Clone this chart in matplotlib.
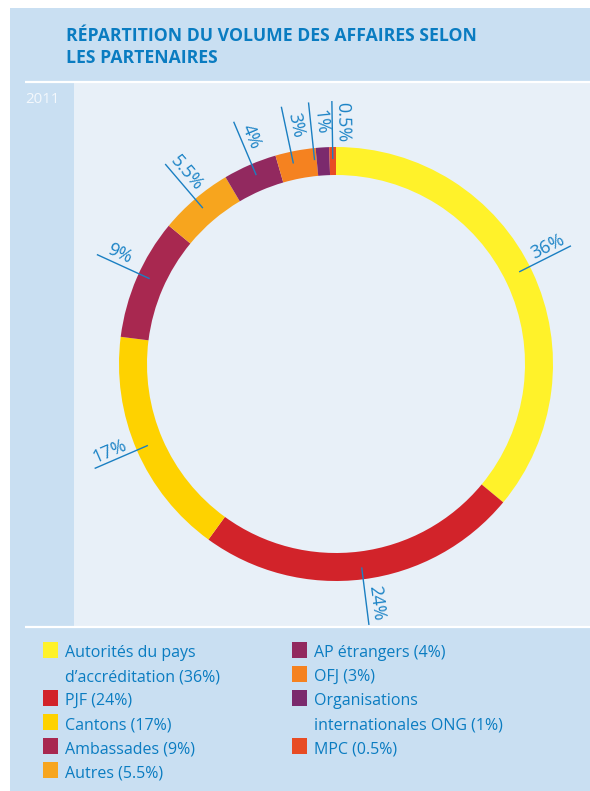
import numpy as np
import matplotlib
matplotlib.use("Agg")
import matplotlib.pyplot as plt
from matplotlib.patches import Rectangle

plt.rcParams['font.family'] = ['Open Sans', 'DejaVu Sans']

# ---- data ----
title_lines = ["RÉPARTITION DU VOLUME DES AFFAIRES SELON", "LES PARTENAIRES"]
year = "2011"
categories = ["Autorités du pays\nd\u2019accréditation", "PJF", "Cantons", "Ambassades", "Autres",
              "AP étrangers", "OFJ", "Organisations\ninternationales ONG", "MPC"]
values = [36, 24, 17, 9, 5.5, 4, 3, 1, 0.5]
value_labels = ["36%", "24%", "17%", "9%", "5.5%", "4%", "3%", "1%", "0.5%"]
colors = ["#fff22a", "#d2232a", "#fed200", "#a82850", "#f7a51e",
          "#92295f", "#f58220", "#7b2a6d", "#e84c24"]

# ---- layout constants (pixels) ----
W, H = 590, 791
BG = "#c9dff2"
PANEL = "#e8f0f8"
BLUE = "#0a7cc1"
CX, CY, R = 336, 364, 217.0
RING = 28.0
label_nudge_deg = [1.5, 0, 0, -1.2, 0, -0.5, 1.2, 2.4, 0]   # small angular shifts of leader lines

fig = plt.figure(figsize=(W / 100, H / 100), dpi=100)
fig.patch.set_facecolor("white")

bg = fig.add_axes([0, 0, 1, 1])
bg.set_xlim(0, W)
bg.set_ylim(H, 0)
bg.axis("off")
bg.add_patch(Rectangle((10, 8), W - 10, H - 8, facecolor=BG, edgecolor="none"))
bg.add_patch(Rectangle((74, 83), W - 74, 543, facecolor=PANEL, edgecolor="none"))
bg.plot([25, W], [81.5, 81.5], color="white", lw=1.6, solid_capstyle="butt")
bg.plot([25, W], [626.5, 626.5], color="white", lw=1.6, solid_capstyle="butt")

for i, line in enumerate(title_lines):
    bg.text(66, 41 + 22 * i, line, color=BLUE, fontsize=12.7, fontweight="bold",
            va="baseline", ha="left")
bg.text(25, 103, year, color="#f4f8fc", fontsize=10.8, va="baseline", ha="left")

# ---- donut ----
ax = fig.add_axes([0, 0, 1, 1])
ax.patch.set_alpha(0)
ax.pie(values, colors=colors, startangle=90, counterclock=False, radius=1,
       wedgeprops=dict(width=RING / R, linewidth=0))
ax.set_aspect("auto")
ax.set_xlim((0 - CX) / R, (W - CX) / R)
ax.set_ylim((CY - H) / R, (CY - 0) / R)
ax.axis("off")

cum = np.cumsum([0] + values[:-1])
total = sum(values)
r1, r2, rt, off = 205 / R, 263 / R, 242 / R, 10 / R
for c, v, lab, nd in zip(cum, values, value_labels, label_nudge_deg):
    th = np.deg2rad(90 - 360 * (c + v / 2) / total + nd)
    ux, uy = np.cos(th), np.sin(th)
    ax.plot([r1 * ux, r2 * ux], [r1 * uy, r2 * uy], color="#1a7fc2", lw=1.0,
            solid_capstyle="butt")
    rot = np.rad2deg(th) if ux >= -1e-9 else np.rad2deg(th) - 180
    rr = np.deg2rad(rot)
    px, py = -np.sin(rr), np.cos(rr)
    ax.text(rt * ux + off * px, rt * uy + off * py, lab, rotation=rot,
            rotation_mode="anchor", ha="center", va="center",
            color="#1b83c6", fontsize=13)

# ---- legend (manual) ----
col_x = [43, 292]
rows = [(0, 642), (0, 690), (0, 714), (0, 738), (0, 762),
        (1, 642), (1, 666), (1, 690), (1, 738)]
for (col, y), name, lab, colr in zip(rows, categories, value_labels, colors):
    x = col_x[col]
    bg.add_patch(Rectangle((x, y), 15, 16, facecolor=colr, edgecolor="none"))
    lines = f"{name} ({lab})".split("\n")
    for i, ln in enumerate(lines):
        bg.text(x + 22, y + 15 + 24 * i, ln, color=BLUE, fontsize=11.5,
                va="baseline", ha="left")

fig.savefig("out.png", dpi=100, facecolor=fig.get_facecolor())
